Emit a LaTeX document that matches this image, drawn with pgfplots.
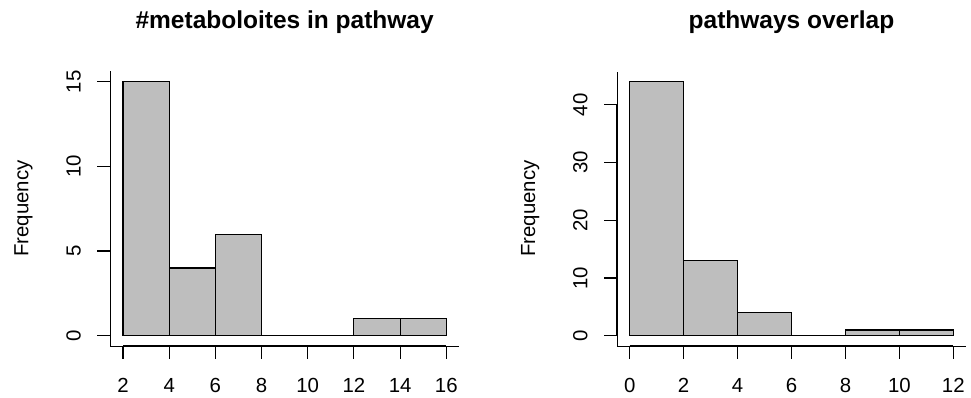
\documentclass[border=0pt]{standalone}
\usepackage{pgfplots}
\pgfplotsset{compat=1.18}
\usepackage{fontspec}
\setmainfont{Liberation Sans}
\definecolor{histgray}{RGB}{190,190,190}
\pgfplotsset{
  rhist/.style={
    scale only axis,
    clip=false,
    axis x line*=bottom,
    axis y line*=left,
    tick align=outside,
    major tick length=12.7pt,
    every tick/.style={black, line width=1.1pt},
    tick label style={font=\fontsize{20.4}{24}\selectfont},
    /pgf/number format/assume math mode=true,
    xticklabel style={anchor=base, yshift=-34pt},
    yticklabel style={xshift=-16.7pt, rotate=90, anchor=base},
    ylabel={Frequency},
    ylabel style={font=\fontsize{20.4}{24}\selectfont, anchor=center},
    title style={font=\fontsize{24.5}{29}\selectfont\bfseries, anchor=base, yshift=-6pt},
  }
}
\begin{document}
\begin{tikzpicture}
\useasboundingbox (0,0) rectangle (971pt,398pt);
% left histogram
\begin{axis}[rhist,
  at={(110.1pt,52.1pt)}, anchor=south west,
  width=349.1pt, height=274.4pt,
  xmin=1.44, xmax=16.56, ymin=-0.6, ymax=15.6,
  xtick={2,4,6,8,10,12,14,16},
  ytick={0,5,10,15},
  ylabel style={at={(axis description cs:-0.2478,0.5)}},
  title={\#metaboloites in pathway},
  title style={at={(axis description cs:0.5,1.1574)}},
]
\addplot[ybar interval, fill=histgray, draw=black, line width=1.1pt]
  coordinates {(2,15) (4,4) (6,6) (8,0) (10,0) (12,1) (14,1) (16,1)};
\draw[black, line width=1.1pt] (axis cs:2,-0.6) -- (axis cs:16,-0.6);
\draw[black, line width=1.1pt] (axis cs:1.44,0) -- (axis cs:1.44,15);
\end{axis}
% right histogram
\begin{axis}[rhist,
  at={(616.8pt,52.1pt)}, anchor=south west,
  width=349.4pt, height=274.35pt,
  xmin=-0.48, xmax=12.48, ymin=-1.76, ymax=45.76,
  xtick={0,2,4,6,8,10,12},
  ytick={0,10,20,30,40},
  ylabel style={at={(axis description cs:-0.2476,0.5)}},
  title={pathways overlap},
  title style={at={(axis description cs:0.5,1.1574)}},
]
\addplot[ybar interval, fill=histgray, draw=black, line width=1.1pt]
  coordinates {(0,44) (2,13) (4,4) (6,0) (8,1) (10,1) (12,1)};
\draw[black, line width=1.1pt] (axis cs:0,-1.76) -- (axis cs:12,-1.76);
\draw[black, line width=1.1pt] (axis cs:-0.48,0) -- (axis cs:-0.48,40);
\end{axis}
\end{tikzpicture}
\end{document}
